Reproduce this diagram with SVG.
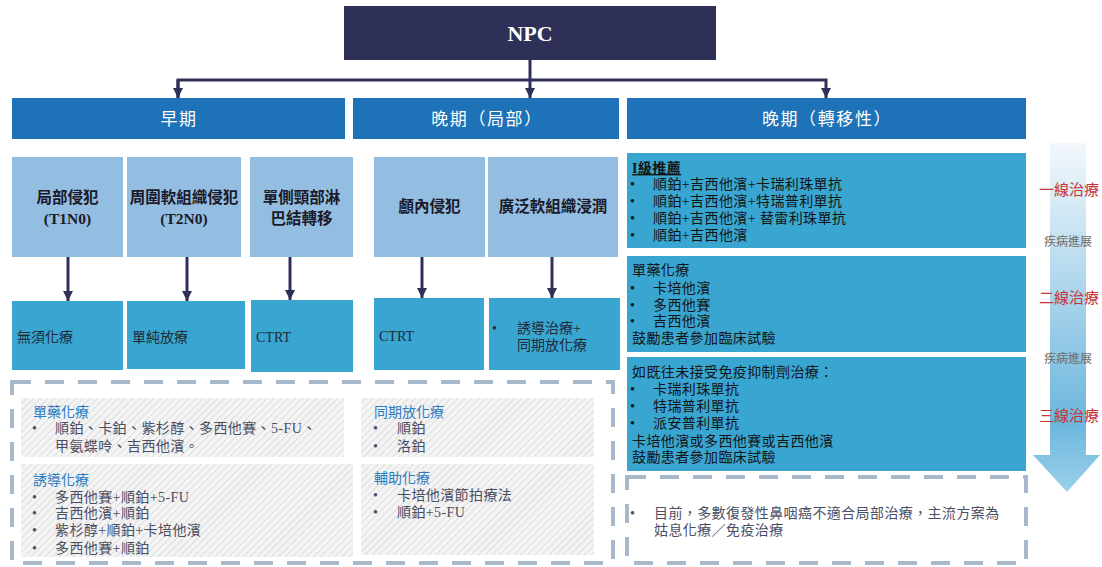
<svg xmlns="http://www.w3.org/2000/svg" width="1102" height="567" viewBox="0 0 1102 567">
<style>
text{font-family:"Liberation Serif","Noto Sans CJK TC",serif;}
.hdr{fill:#1d72b8;}
.hdrt{fill:#ffffff;font-size:17px;text-anchor:middle;font-family:"Noto Sans CJK TC","Liberation Sans",sans-serif;letter-spacing:1.6px;}
.lb{fill:#94bee1;}
.tl{fill:#39a6d1;}
.bt{fill:#1a1a2a;font-size:15.5px;font-weight:bold;text-anchor:middle;}
.rt{fill:#1f2a36;font-size:14px;}
.bx{fill:#141414;font-size:14px;letter-spacing:0.4px;}
.pt{fill:#2b7cc3;font-size:14px;font-family:"Noto Sans CJK TC","Liberation Sans",sans-serif;}
.px{fill:#4a4e63;font-size:14px;letter-spacing:0.4px;}
.dash{fill:none;stroke:#a7b9cb;stroke-width:4;stroke-dasharray:19 14;}
.conn{fill:none;stroke:#2e3057;stroke-width:3;}
.red{fill:#c8323a;font-size:15px;text-anchor:middle;font-family:"Noto Sans CJK TC","Liberation Sans",sans-serif;}
.gray{fill:#6b6b6b;font-size:12px;text-anchor:middle;font-family:"Noto Sans CJK TC","Liberation Sans",sans-serif;}
</style>
<defs>
<marker id="ah" viewBox="0 0 10 10" refX="10" refY="5" markerWidth="10" markerHeight="10" markerUnits="userSpaceOnUse" orient="auto">
<path d="M0,0 L10,5 L0,10 Z" fill="#2e3057"/>
</marker>
<pattern id="hatch" width="5" height="5" patternUnits="userSpaceOnUse" patternTransform="rotate(45)">
<rect width="5" height="5" fill="#f4f4f4"/>
<line x1="0" y1="0" x2="0" y2="5" stroke="#d4d4d4" stroke-width="1.4"/>
</pattern>
<linearGradient id="prog" x1="0" y1="0" x2="0" y2="1">
<stop offset="0" stop-color="#f3f8fc"/>
<stop offset="0.8" stop-color="#6cb6dd"/>
<stop offset="1" stop-color="#9ad0eb"/>
</linearGradient>
</defs>

<g id="npc">
<rect x="344" y="6" width="372" height="54" fill="#2e3057"/>
<text x="530" y="41" fill="#ffffff" font-size="22" font-weight="bold" text-anchor="middle">NPC</text>
</g>

<g id="connectors">
<path class="conn" d="M530,60 V98" marker-end="url(#ah)"/>
<path class="conn" d="M178,98 V80 H826 V98" marker-end="url(#ah)"/>
<path class="conn" d="M178,80 V98" marker-end="url(#ah)"/>
<path class="conn" d="M68,257 V301" marker-end="url(#ah)"/>
<path class="conn" d="M187,257 V301" marker-end="url(#ah)"/>
<path class="conn" d="M290,257 V300" marker-end="url(#ah)"/>
<path class="conn" d="M422,257 V298" marker-end="url(#ah)"/>
<path class="conn" d="M552,257 V298" marker-end="url(#ah)"/>
</g>

<g id="hdr-early">
<rect class="hdr" x="12" y="98" width="333" height="41"/>
<text class="hdrt" x="179" y="125">早期</text>
</g>
<g id="hdr-late-local">
<rect class="hdr" x="353" y="98" width="266" height="41"/>
<text class="hdrt" x="487" y="125">晚期（局部）</text>
</g>
<g id="hdr-late-meta">
<rect class="hdr" x="627" y="98" width="399" height="41"/>
<text class="hdrt" x="827" y="125">晚期（轉移性）</text>
</g>

<g id="n-t1n0">
<rect class="lb" x="12" y="157" width="111" height="100"/>
<text class="bt" x="67.5" y="203">局部侵犯</text>
<text class="bt" x="67.5" y="224">(T1N0)</text>
</g>
<g id="n-t2n0">
<rect class="lb" x="127" y="157" width="114" height="100"/>
<text class="bt" x="184" y="203">周圍軟組織侵犯</text>
<text class="bt" x="184" y="224">(T2N0)</text>
</g>
<g id="n-lymph">
<rect class="lb" x="250" y="157" width="103" height="100"/>
<text class="bt" x="301.5" y="203">單側頸部淋</text>
<text class="bt" x="301.5" y="224">巴結轉移</text>
</g>
<g id="n-intracranial">
<rect class="lb" x="374" y="157" width="111" height="100"/>
<text class="bt" x="429.5" y="212">顱內侵犯</text>
</g>
<g id="n-softtissue">
<rect class="lb" x="488" y="157" width="130" height="100"/>
<text class="bt" x="553" y="212">廣泛軟組織浸潤</text>
</g>

<g id="t-none">
<rect class="tl" x="12" y="301" width="111" height="69"/>
<text class="rt" x="17" y="342">無須化療</text>
</g>
<g id="t-rt">
<rect class="tl" x="127" y="301" width="118" height="68"/>
<text class="rt" x="132" y="342">單純放療</text>
</g>
<g id="t-ctrt1">
<rect class="tl" x="251" y="300" width="102" height="72"/>
<text class="rt" x="256" y="342">CTRT</text>
</g>
<g id="t-ctrt2">
<rect class="tl" x="374" y="298" width="110" height="72"/>
<text class="rt" x="379" y="341">CTRT</text>
</g>
<g id="t-induction">
<rect class="tl" x="489" y="298" width="131" height="72"/>
<text class="rt" x="492" y="333">•</text>
<text class="rt" x="517" y="333">誘導治療+</text>
<text class="rt" x="517" y="350">同期放化療</text>
</g>

<g id="first-line">
<rect class="tl" x="627" y="153" width="399" height="95"/>
<text class="bx" x="632" y="173" font-weight="bold" text-decoration="underline">I級推薦</text>
<text class="bx" x="630" y="189">•</text><text class="bx" x="653" y="189">順鉑+吉西他濱+卡瑞利珠單抗</text>
<text class="bx" x="630" y="206">•</text><text class="bx" x="653" y="206">順鉑+吉西他濱+特瑞普利單抗</text>
<text class="bx" x="630" y="223">•</text><text class="bx" x="653" y="223">順鉑+吉西他濱+ 替雷利珠單抗</text>
<text class="bx" x="630" y="240">•</text><text class="bx" x="653" y="240">順鉑+吉西他濱</text>
</g>
<g id="second-line">
<rect class="tl" x="627" y="256" width="399" height="96"/>
<text class="bx" x="632" y="275">單藥化療</text>
<text class="bx" x="630" y="293">•</text><text class="bx" x="653" y="293">卡培他濱</text>
<text class="bx" x="630" y="310">•</text><text class="bx" x="653" y="310">多西他賽</text>
<text class="bx" x="630" y="326">•</text><text class="bx" x="653" y="326">吉西他濱</text>
<text class="bx" x="632" y="343">鼓勵患者參加臨床試驗</text>
</g>
<g id="third-line">
<rect class="tl" x="627" y="357" width="399" height="114"/>
<text class="bx" x="632" y="377">如既往未接受免疫抑制劑治療：</text>
<text class="bx" x="630" y="394">•</text><text class="bx" x="653" y="394">卡瑞利珠單抗</text>
<text class="bx" x="630" y="411">•</text><text class="bx" x="653" y="411">特瑞普利單抗</text>
<text class="bx" x="630" y="428">•</text><text class="bx" x="653" y="428">派安普利單抗</text>
<text class="bx" x="632" y="446">卡培他濱或多西他賽或吉西他濱</text>
<text class="bx" x="632" y="462">鼓勵患者參加臨床試驗</text>
</g>

<g id="recurrent-note">
<rect class="dash" x="627" y="477" width="399" height="86"/>
<text class="px" x="630" y="518">•</text>
<text class="px" x="654" y="518">目前，多數復發性鼻咽癌不適合局部治療，主流方案為</text>
<text class="px" x="654" y="535">姑息化療／免疫治療</text>
</g>

<g id="chemo-options">
<rect class="dash" x="12" y="382" width="601" height="181"/>
<rect x="21" y="398" width="323" height="59" fill="url(#hatch)"/>
<text class="pt" x="33" y="417">單藥化療</text>
<text class="px" x="32" y="433">•</text><text class="px" x="55" y="433">順鉑、卡鉑、紫杉醇、多西他賽、5-FU、</text>
<text class="px" x="55" y="451">甲氨蝶呤、吉西他濱。</text>
<rect x="21" y="464" width="332" height="93" fill="url(#hatch)"/>
<text class="pt" x="33" y="485">誘導化療</text>
<text class="px" x="32" y="502">•</text><text class="px" x="55" y="502">多西他賽+順鉑+5-FU</text>
<text class="px" x="32" y="518">•</text><text class="px" x="55" y="518">吉西他濱+順鉑</text>
<text class="px" x="32" y="535">•</text><text class="px" x="55" y="535">紫杉醇+順鉑+卡培他濱</text>
<text class="px" x="32" y="553">•</text><text class="px" x="55" y="553">多西他賽+順鉑</text>
<rect x="361" y="398" width="233" height="59" fill="url(#hatch)"/>
<text class="pt" x="374" y="417">同期放化療</text>
<text class="px" x="373" y="433">•</text><text class="px" x="397" y="433">順鉑</text>
<text class="px" x="373" y="451">•</text><text class="px" x="397" y="451">洛鉑</text>
<rect x="361" y="464" width="233" height="91" fill="url(#hatch)"/>
<text class="pt" x="374" y="483">輔助化療</text>
<text class="px" x="373" y="500">•</text><text class="px" x="397" y="500">卡培他濱節拍療法</text>
<text class="px" x="373" y="517">•</text><text class="px" x="397" y="517">順鉑+5-FU</text>
</g>

<g id="progression">
<path d="M1050,143 H1086 V455 H1100 L1067,492 L1033,455 H1050 Z" fill="url(#prog)"/>
<text class="red" x="1069" y="195">一線治療</text>
<text class="gray" x="1068" y="246">疾病進展</text>
<text class="red" x="1069" y="303">二線治療</text>
<text class="gray" x="1068" y="363">疾病進展</text>
<text class="red" x="1069" y="421">三線治療</text>
</g>
</svg>
